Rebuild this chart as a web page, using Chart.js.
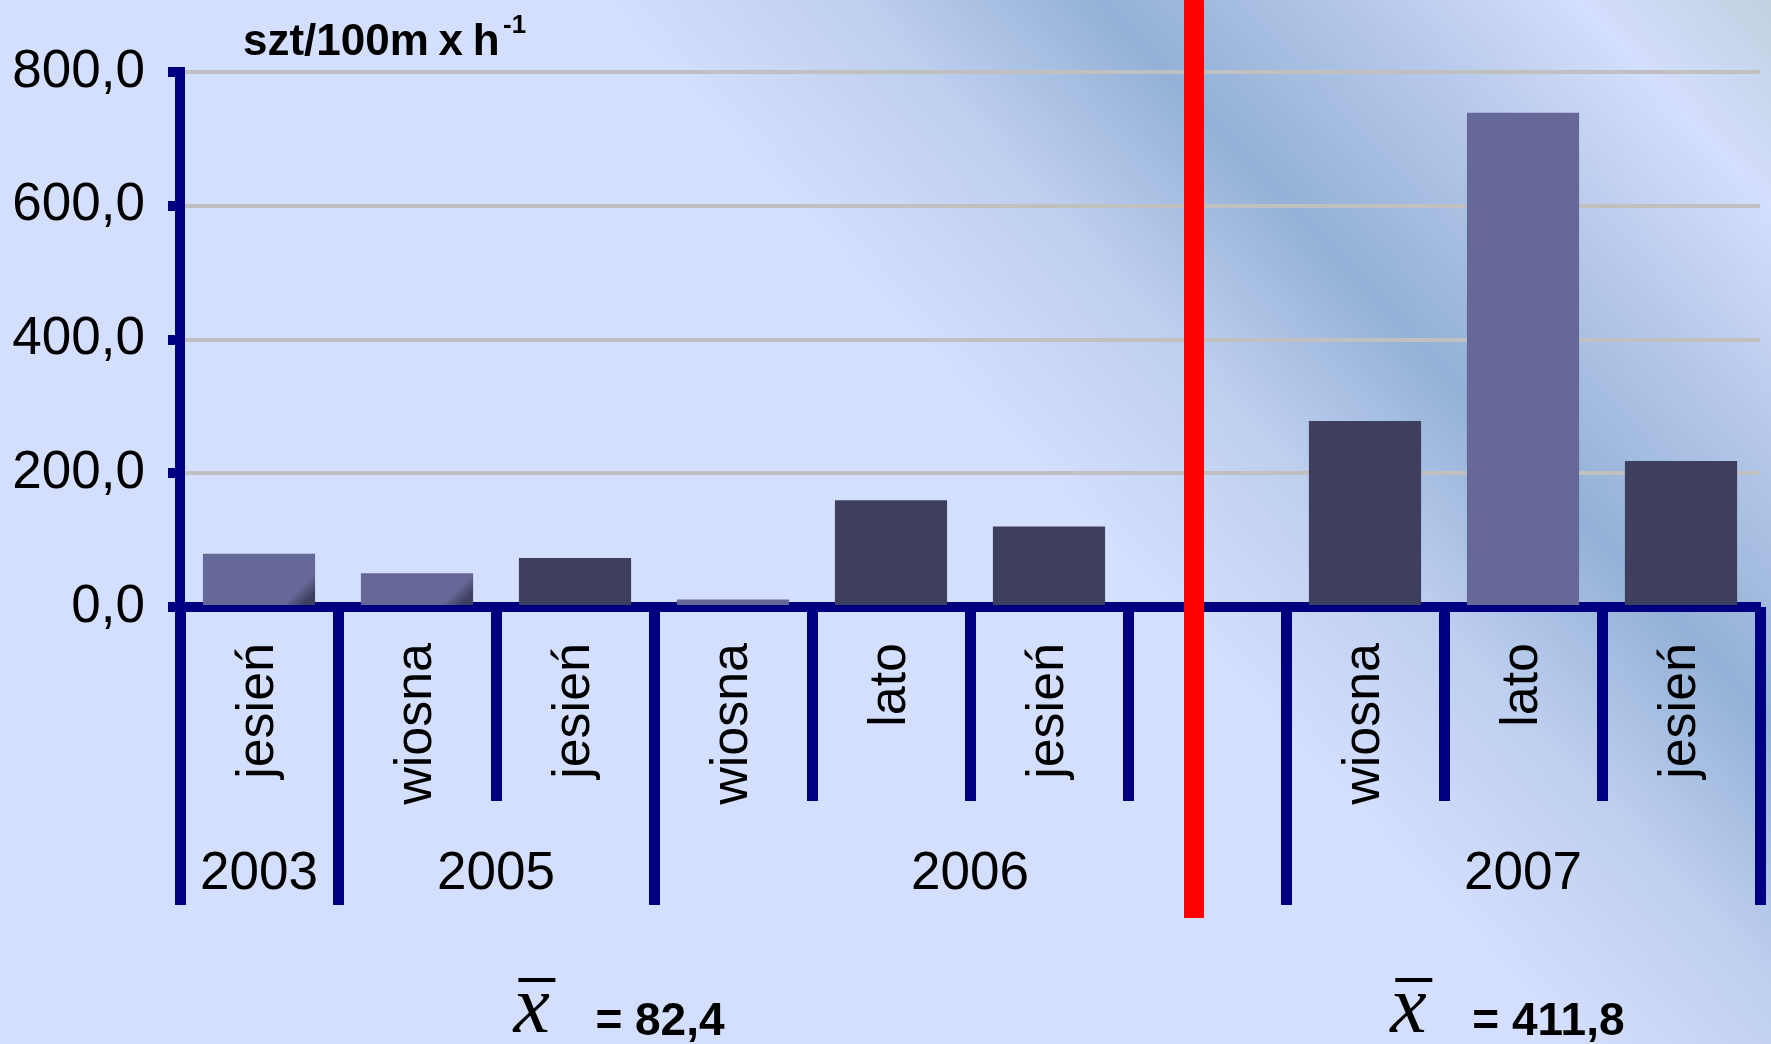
<!DOCTYPE html>
<html lang="pl">
<head>
<meta charset="utf-8">
<title>szt/100mxh-1</title>
<script src="https://cdn.jsdelivr.net/npm/chart.js@4.4.1/dist/chart.umd.min.js"></script>
<style>
  html, body { margin: 0; padding: 0; overflow: hidden; background: #D4DEFD; }
  #wrap { width: 1771px; height: 1044px; }
  canvas { display: block; }
</style>
</head>
<body>
<div id="wrap"><canvas id="chart" width="1771" height="1044"></canvas></div>
<script>
// Seasons along the category axis; the blank slot separates 2006 from 2007
const seasons = ['jesień', 'wiosna', 'jesień', 'wiosna', 'lato', 'jesień', '', 'wiosna', 'lato', 'jesień'];
// Catch per unit effort, szt/100m x h^-1
const catchValues = [79.6, 50.4, 73.1, 11.2, 159.8, 120.3, null, 278.0, 739.0, 218.4];
// Year groups: first category index and the boundary after the last one
const years = ['2003', '2005', '2006', '2007'];
const yearStart = [0, 1, 3, 7];
const yearEnd = [1, 3, 7, 10];
// Value axis ticks
const yTicks = [0, 200, 400, 600, 800];
// Period means: 2003-2006 and 2007
const meanValues = [82.4, 411.8];

// ---- styling ----
const FONT = '"Liberation Sans", Arial, sans-serif';
const NAVY = '#000080';
const DARK = '#3E3F5F';
const LIGHT = '#666898';
const barKind = ['shade', 'shade', 'dark', 'light', 'dark', 'dark', 'dark', 'dark', 'light', 'dark'];
const BAR_FRACTION = 0.71;
const SEPARATOR_AT = 5.92;          // category-scale position of the red divider
const MEAN_LABEL_AT = [1.61, 7.16]; // category-scale position where each mean label starts

const fmt = v => v.toFixed(1).replace('.', ',');

function barFill(c) {
  const i = c.dataIndex;
  const kind = barKind[i];
  if (kind === 'dark') return DARK;
  if (kind === 'light') return LIGHT;
  const chart = c.chart;
  if (!chart.chartArea || catchValues[i] == null) return LIGHT;
  const xs = chart.scales.x, ys = chart.scales.y;
  const w = (xs.getPixelForValue(1) - xs.getPixelForValue(0)) * BAR_FRACTION;
  const left = xs.getPixelForValue(i) - w / 2;
  const top = ys.getPixelForValue(catchValues[i]);
  const h = ys.getPixelForValue(0) - top;
  const s = (w + h) / 2;
  const g = chart.ctx.createLinearGradient(left, top, left + s, top + s);
  const span = w + h;
  g.addColorStop(0, LIGHT);
  g.addColorStop(Math.max(0, 1 - 34 / span), LIGHT);
  g.addColorStop(Math.max(0, 1 - 14 / span), DARK);
  g.addColorStop(1, DARK);
  return g;
}

const decor = {
  id: 'decor',
  beforeDraw(chart) {
    const { ctx, width, height } = chart;
    const dx = 0.732, dy = -0.681;
    const L = width * dx + height * (-dy);
    const g = ctx.createLinearGradient(0, height, L * dx, height + L * dy);
    g.addColorStop(0, '#D4DEFD');
    g.addColorStop(0.575, '#D4DEFD');
    g.addColorStop(0.67, '#BDCEEF');
    g.addColorStop(0.755, '#93B1D6');
    g.addColorStop(0.85, '#B6C8EA');
    g.addColorStop(0.93, '#D4DEFD');
    g.addColorStop(1, '#C2D0E0');
    ctx.save();
    ctx.fillStyle = g;
    ctx.fillRect(0, 0, width, height);
    ctx.restore();
  },
  afterDraw(chart) {
    const { ctx } = chart;
    const xs = chart.scales.x, ys = chart.scales.y;
    const base = ys.getPixelForValue(0);
    const edge = k => xs.getPixelForValue(k - 0.5);

    ctx.save();
    // boundary marks below the axis: long ones between years, short ones between seasons
    ctx.fillStyle = NAVY;
    for (let k = 0; k <= seasons.length; k++) {
      const long = yearStart.includes(k) || k === seasons.length;
      const x = edge(k);
      ctx.fillRect(Math.round(x - 5), base, 11, long ? 298 : 194);
    }

    // year labels centred in their groups
    ctx.fillStyle = '#000';
    ctx.font = '53px ' + FONT;
    ctx.textAlign = 'center';
    ctx.textBaseline = 'middle';
    years.forEach((y, j) => {
      const cx = (edge(yearStart[j]) + edge(yearEnd[j])) / 2;
      ctx.fillText(y, cx, base + 267);
    });

    // mean values
    meanValues.forEach((m, j) => {
      const x0 = xs.getPixelForValue(MEAN_LABEL_AT[j]);
      ctx.textAlign = 'left';
      ctx.textBaseline = 'alphabetic';
      ctx.font = 'italic 82px "Liberation Serif", "Times New Roman", serif';
      ctx.fillText('x', x0, 1032);
      ctx.fillRect(x0 + 5, 978, 37, 4);
      ctx.font = 'bold 46px ' + FONT;
      ctx.fillText('= ' + fmt(m), x0 + 82, 1035);
    });

    // unit caption above the value axis
    ctx.textAlign = 'left';
    ctx.textBaseline = 'alphabetic';
    ctx.font = 'bold 44px ' + FONT;
    ctx.wordSpacing = '-2.5px';
    ctx.fillText('szt/100m x h', 243, 55);
    ctx.wordSpacing = '0px';
    ctx.font = 'bold 26px ' + FONT;
    ctx.fillText('-1', 503, 33);

    // red divider between the two periods
    ctx.fillStyle = '#FF0000';
    const rx = xs.getPixelForValue(SEPARATOR_AT);
    ctx.fillRect(Math.round(rx - 10), 0, 20, 918);
    ctx.restore();
  }
};

new Chart(document.getElementById('chart'), {
  type: 'bar',
  data: {
    labels: seasons,
    datasets: [{
      data: catchValues,
      backgroundColor: barFill,
      borderWidth: 0,
      barPercentage: BAR_FRACTION,
      categoryPercentage: 1
    }]
  },
  options: {
    responsive: false,
    animation: false,
    events: [],
    layout: { padding: { top: 72, right: 11, left: 0, bottom: 0 } },
    plugins: { legend: { display: false }, tooltip: { enabled: false } },
    scales: {
      x: {
        type: 'category',
        offset: true,
        z: 1,
        grid: { display: false, drawTicks: false },
        border: { display: true, color: NAVY, width: 10 },
        ticks: {
          autoSkip: false,
          minRotation: 90,
          maxRotation: 90,
          padding: 36,
          color: '#000',
          font: { family: FONT, size: 52 }
        },
        afterFit(scale) {
          scale.height = 1044 - 607;
          scale.paddingLeft = 0;
          scale.paddingRight = 0;
        }
      },
      y: {
        min: 0,
        max: 800,
        afterBuildTicks(scale) { scale.ticks = yTicks.map(v => ({ value: v })); },
        grid: { color: '#C0C0C0', lineWidth: 4, tickColor: NAVY, tickWidth: 10, tickLength: 12 },
        border: { display: true, color: NAVY, width: 10 },
        ticks: {
          padding: 23,
          color: '#000',
          font: { family: FONT, size: 53 },
          callback: v => fmt(v)
        },
        afterFit(scale) { scale.width = 180; }
      }
    }
  },
  plugins: [decor]
});
</script>
</body>
</html>
